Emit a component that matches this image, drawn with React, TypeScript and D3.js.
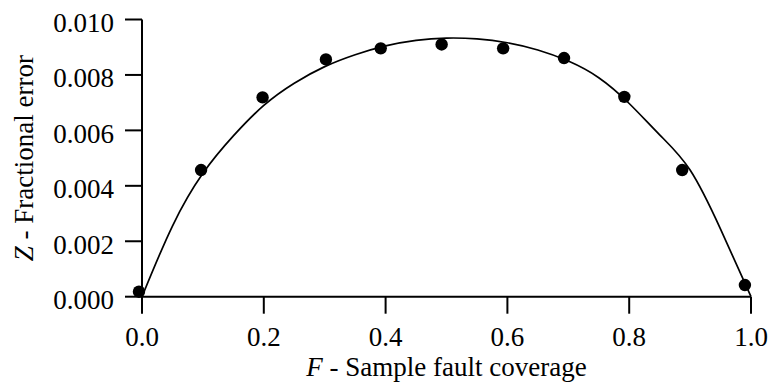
import React from "react";
import * as d3 from "d3";

const pointF = [-0.005, 0.097, 0.198, 0.302, 0.392, 0.492, 0.593, 0.693, 0.792, 0.887, 0.99];
const pointZ = [0.00018, 0.00457, 0.00719, 0.00856, 0.00896, 0.0091, 0.00896, 0.00861, 0.00721, 0.00457, 0.00042];

const curveF = [0, 0.05, 0.1, 0.15, 0.2, 0.25, 0.3, 0.35, 0.4, 0.45, 0.5, 0.55, 0.6, 0.65, 0.7, 0.75, 0.8, 0.85, 0.9, 0.95, 1.0];
const curveZ = [0, 0.00255, 0.00445, 0.0058, 0.0069, 0.0077, 0.0083, 0.00873, 0.00905, 0.00925, 0.00933, 0.0093, 0.00916, 0.0089, 0.0085, 0.0079, 0.00697, 0.00584, 0.00457, 0.00244, 0];

const xTicks = [0, 0.2, 0.4, 0.6, 0.8, 1.0];
const yTicks = [0, 0.002, 0.004, 0.006, 0.008, 0.01];

const FONT = "'Liberation Serif', 'Times New Roman', serif";
const FS = 27;

export default function App() {
  const x = d3.scaleLinear().domain([0, 1]).range([142, 751]);
  const y = d3.scaleLinear().domain([0, 0.01]).range([296.7, 19.5]);
  const line = d3
    .line<number>()
    .x((d) => x(d))
    .y((_, i) => y(curveZ[i]))
    .curve(d3.curveNatural);
  const fx = d3.format(".1f");
  const fy = d3.format(".3f");
  const x0 = x(0);
  const y0 = y(0);
  return (
    <svg
      width={769}
      height={385}
      style={{ position: "absolute", left: 0, top: 0, background: "#fff" }}
      fontFamily={FONT}
    >
      <rect width={769} height={385} fill="#fff" />
      <line x1={x0} x2={x(1)} y1={y0} y2={y0} stroke="#000" strokeWidth={2} />
      <line x1={x0} x2={x0} y1={y(0.01)} y2={y0} stroke="#000" strokeWidth={2} />
      {xTicks.map((t) => (
        <g key={"x" + t}>
          <line x1={x(t)} x2={x(t)} y1={y0} y2={y0 + 17} stroke="#000" strokeWidth={2} />
          <text x={x(t)} y={346} textAnchor="middle" fontSize={FS} fill="#000">
            {fx(t)}
          </text>
        </g>
      ))}
      {yTicks.map((t) => (
        <g key={"y" + t}>
          <line x1={x0 - 17} x2={x0} y1={y(t)} y2={y(t)} stroke="#000" strokeWidth={2} />
          <text x={114} y={y(t) + 12.5} textAnchor="end" fontSize={FS} fill="#000">
            {fy(t)}
          </text>
        </g>
      ))}
      <path d={line(curveF) || ""} fill="none" stroke="#000" strokeWidth={1.7} />
      {pointF.map((f, i) => (
        <circle key={"p" + i} cx={x(f)} cy={y(pointZ[i])} r={6.2} fill="#000" />
      ))}
      <text x={(x(0) + x(1)) / 2} y={376} textAnchor="middle" fontSize={FS} fill="#000">
        <tspan fontStyle="italic">F</tspan> - Sample fault coverage
      </text>
      <text
        transform={`translate(33, ${(y(0) + y(0.01)) / 2}) rotate(-90)`}
        textAnchor="middle"
        fontSize={FS}
        fill="#000"
      >
        <tspan fontStyle="italic">Z</tspan> - Fractional error
      </text>
    </svg>
  );
}
